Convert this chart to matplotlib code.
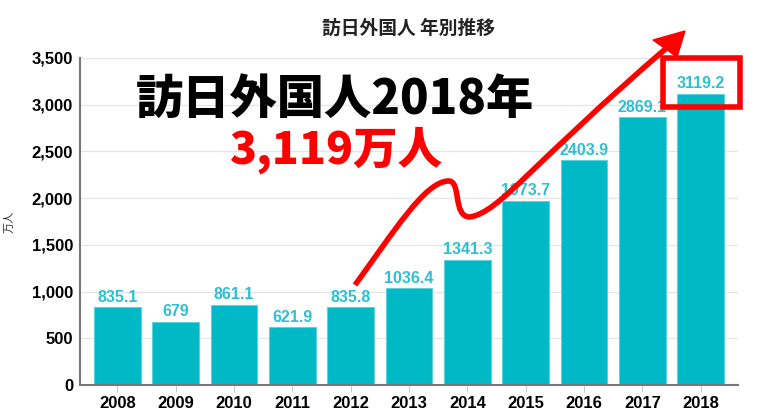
import matplotlib
matplotlib.use('Agg')
import matplotlib.pyplot as plt
from matplotlib.path import Path
from matplotlib.patches import PathPatch, Polygon, Rectangle

years = ['2008', '2009', '2010', '2011', '2012', '2013',
         '2014', '2015', '2016', '2017', '2018']
visitors = [835.1, 679, 861.1, 621.9, 835.8, 1036.4,
            1341.3, 1973.7, 2403.9, 2869.1, 3119.2]
value_labels = ['835.1', '679', '861.1', '621.9', '835.8', '1036.4',
                '1341.3', '1973.7', '2403.9', '2869.1', '3119.2']
yticks = [0, 500, 1000, 1500, 2000, 2500, 3000, 3500]

W, H = 768, 417
fig = plt.figure(figsize=(W / 100, H / 100), dpi=100)
ax = fig.add_axes([80 / W, 1 - 385 / H, (738 - 80) / W, (385 - 58) / H])

bar_color = '#00b9c6'
label_color = '#2ec0d2'
x = list(range(len(years)))
ax.bar(x, visitors, width=0.8, color=bar_color, edgecolor='#5fd3dc', linewidth=0.8, zorder=2)
for xi, v, s in zip(x, visitors, value_labels):
    ax.text(xi, v + 25, s, ha='center', va='bottom', color=label_color,
            fontsize=11.5, fontweight='bold', family='Liberation Sans', zorder=3)

ax.set_xlim(-0.64, len(years) - 0.36)
ax.set_ylim(0, 3500)
ax.set_yticks(yticks)
ax.set_yticklabels([f'{t:,}' for t in yticks], fontsize=12, fontweight='bold',
                   family='Liberation Sans')
ax.set_xticks(x)
ax.set_xticklabels(years, fontsize=12, fontweight='bold', family='Liberation Sans')
ax.tick_params(axis='y', length=0, pad=5)
ax.tick_params(axis='x', length=5, color='#cccccc', pad=3)
ax.grid(axis='y', color='#e6e6e6', linewidth=1, zorder=0)
ax.set_axisbelow(True)
for side in ['top', 'right']:
    ax.spines[side].set_visible(False)
ax.spines['left'].set_color('#777777')
ax.spines['bottom'].set_color('#777777')
ax.spines['left'].set_linewidth(1.5)
ax.spines['bottom'].set_linewidth(1.5)

cjk = ['Noto Sans CJK JP', 'DejaVu Sans']
ax.set_ylabel('万人', family=cjk, fontsize=8, labelpad=12, color='#333333')
fig.text(409 / W, 1 - 28 / H, '訪日外国人 年別推移', ha='center', va='center',
         family=cjk, fontsize=13.5, fontweight='bold', color='#222222')

# overlay headline
fig.text(335 / W, 1 - 100 / H, '訪日外国人2018年', ha='center', va='center',
         family=cjk, fontsize=34, fontweight='black', color='black')
fig.text(337 / W, 1 - 150 / H, '3,119万人', ha='center', va='center',
         family=cjk, fontsize=32, fontweight='black', color='#ff0000')


def px(p):
    return (p[0] / W, 1 - p[1] / H)


# red squiggly arrow
pts = [(355, 285), (395, 230), (425, 182), (448, 181),
       (462, 180), (452, 217), (470, 217),
       (500, 212), (530, 165), (670, 45)]
codes = [Path.MOVETO] + [Path.CURVE4] * 9
arrow = PathPatch(Path([px(p) for p in pts], codes), transform=fig.transFigure,
                  fill=False, edgecolor='#ff0000', linewidth=4, capstyle='butt')
fig.patches.append(arrow)
head = Polygon([px((685, 31)), px((653, 40)), px((677, 57))], closed=True,
               transform=fig.transFigure, facecolor='#ff0000', edgecolor='#ff0000')
fig.patches.append(head)

box = Rectangle(px((663, 107)), 77 / W, 49 / H, transform=fig.transFigure,
                fill=False, edgecolor='#ff0000', linewidth=4)
fig.patches.append(box)

fig.savefig('out.png', dpi=100)
